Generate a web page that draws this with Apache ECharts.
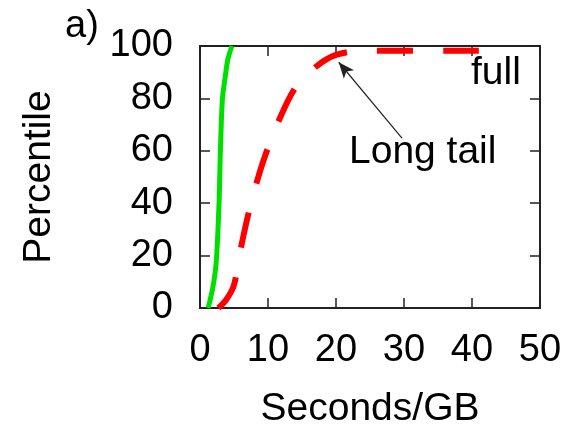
<!DOCTYPE html>
<html>
<head>
<meta charset="utf-8">
<script src="https://cdn.jsdelivr.net/npm/echarts@6/dist/echarts.min.js"></script>
<style>
html, body { margin: 0; padding: 0; background: #fff; }
#chart { width: 572px; height: 429px; }
</style>
</head>
<body>
<div id="chart"></div>
<script>
// values: [seconds/GB, percentile]
var fastCurve = [[1.2, 0], [1.9, 8], [2.4, 18], [2.8, 40], [3.0, 60], [3.3, 80], [3.7, 88], [4.1, 95], [4.7, 100]];
var fullCurve = [[2.7, 0], [3.8, 3], [4.9, 8], [5.5, 15], [6.1, 24], [7.5, 40], [9.3, 56], [11.5, 71], [14, 84], [17, 92], [20, 96.6], [24, 98.2], [41, 98.2]];
var xTicks = [0, 10, 20, 30, 40, 50];
var yTicks = [0, 20, 40, 60, 80, 100];
var arrowFrom = [29.7, 64.8];
var arrowTo = [20.4, 93.8];

var font = 'Liberation Sans';
var fs = 38;

var myChart = echarts.init(document.getElementById('chart'));

function frameAxis(pos, ticks, showLabels) {
    return {
        type: 'value',
        position: pos,
        min: ticks[0],
        max: ticks[ticks.length - 1],
        interval: ticks[1] - ticks[0],
        axisLine: { show: true, onZero: false, lineStyle: { color: '#222', width: 2 } },
        axisTick: { show: true, inside: true, length: 10, lineStyle: { color: '#222', width: 1.5 } },
        axisLabel: { show: showLabels, color: '#000', fontFamily: font, fontSize: fs },
        splitLine: { show: false }
    };
}

var xBottom = frameAxis('bottom', xTicks, true);
xBottom.axisLabel.margin = 24;
xBottom.name = 'Seconds/GB';
xBottom.nameLocation = 'middle';
xBottom.nameGap = 82;
xBottom.nameTextStyle = { color: '#000', fontFamily: font, fontSize: 39 };

var yLeft = frameAxis('left', yTicks, true);
yLeft.axisLabel.margin = 27;
yLeft.name = 'Percentile';
yLeft.nameLocation = 'middle';
yLeft.nameGap = 141;
yLeft.nameTextStyle = { color: '#000', fontFamily: font, fontSize: 39 };

var option = {
    animation: false,
    grid: { left: 200, right: 32, top: 46, bottom: 121, outerBoundsMode: 'none', containLabel: false },
    xAxis: [xBottom, frameAxis('top', xTicks, false)],
    yAxis: [yLeft, frameAxis('right', yTicks, false)],
    graphic: [
        { type: 'text', left: 65, top: 8, style: { text: 'a)', fill: '#000', font: '38px ' + font } },
        { type: 'text', left: 349, top: 133, style: { text: 'Long tail', fill: '#000', font: '39px ' + font } },
        { type: 'text', left: 471, top: 54, style: { text: 'full', fill: '#000', font: '39px ' + font } }
    ],
    series: [
        {
            name: 'fast',
            type: 'line',
            data: fastCurve,
            smooth: 0.3,
            showSymbol: false,
            lineStyle: { color: '#00e000', width: 5 }
        },
        {
            name: 'full',
            type: 'line',
            data: fullCurve,
            smooth: 0.3,
            showSymbol: false,
            lineStyle: { color: '#ff0000', width: 6, type: [36, 30], cap: 'butt' },
            markLine: {
                silent: true,
                symbol: ['none', 'arrow'],
                symbolSize: [10, 16],
                label: { show: false },
                lineStyle: { color: '#222', width: 1.2, type: 'solid' },
                data: [[{ coord: arrowFrom }, { coord: arrowTo }]]
            }
        }
    ]
};

myChart.setOption(option);
</script>
</body>
</html>
